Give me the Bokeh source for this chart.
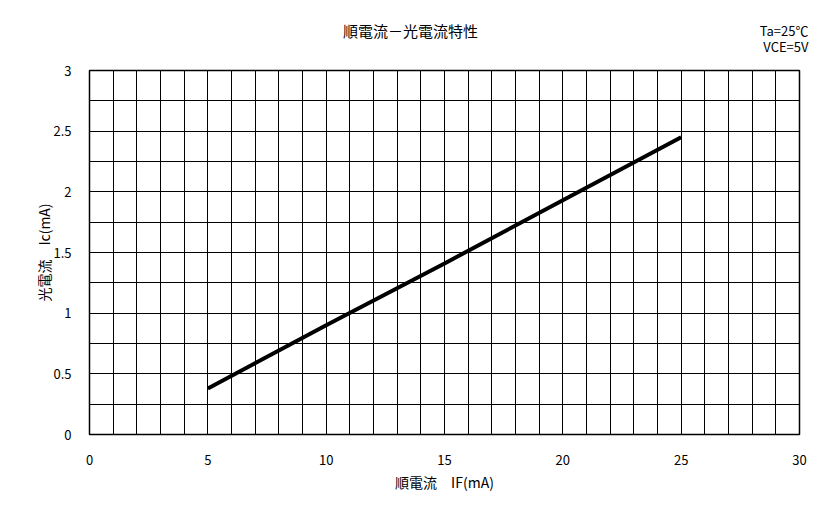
from bokeh.plotting import figure
from bokeh.models import Label, FixedTicker, SingleIntervalTicker, Range1d
from bokeh.layouts import column, row
from bokeh.embed import file_html
from bokeh.resources import INLINE

# data
if_ma = [5, 10, 15, 20, 25]
ic_ma = [0.38, 0.90, 1.41, 1.93, 2.45]
x_ticks = [0, 5, 10, 15, 20, 25, 30]
y_ticks = [0, 0.5, 1, 1.5, 2, 2.5, 3]
y_tick_labels = ["0", "0.5", "1", "1.5", "2", "2.5", "3"]
title_text = "順電流－光電流特性"
cond1 = "Ta=25℃"
cond2 = "VCE=5V"
xlabel = "順電流\u3000IF(mA)"
ylabel = "光電流\u3000Ic(mA)"

FONT = "Noto Sans CJK JP"
W = 815
HEAD_H = 60
MAIN_H = 456
LEFT, RIGHT = 89, 16

# header strip holding the title and measuring conditions (x range in page pixels)
head = figure(width=W, height=HEAD_H, output_backend="svg", toolbar_location=None,
              x_range=Range1d(0, W), y_range=Range1d(0, HEAD_H),
              min_border=0, title=None)
head.axis.visible = False
head.grid.visible = False
head.outline_line_color = None
head.background_fill_color = "white"
head.border_fill_color = "white"
head.add_layout(Label(x=410, y=30, text=title_text,
                      text_font=FONT, text_font_size="15px", text_align="center",
                      text_baseline="middle", text_color="black"))
head.add_layout(Label(x=808, y=30, text=cond1,
                      text_font=FONT, text_font_size="13px", text_align="right",
                      text_baseline="middle", text_color="black"))
head.add_layout(Label(x=808, y=14, text=cond2,
                      text_font=FONT, text_font_size="13px", text_align="right",
                      text_baseline="middle", text_color="black"))

p = figure(width=W, height=MAIN_H, output_backend="svg", toolbar_location=None,
           x_range=Range1d(0, 30), y_range=Range1d(0, 3), title=None,
           min_border_left=LEFT, min_border_right=RIGHT, min_border_top=10, min_border_bottom=82)

p.outline_line_color = "black"
p.outline_line_width = 1.5
p.background_fill_color = "white"
p.border_fill_color = "white"

p.xgrid.ticker = SingleIntervalTicker(interval=1)
p.ygrid.ticker = SingleIntervalTicker(interval=0.25)
for g in (p.xgrid, p.ygrid):
    g.grid_line_color = "black"
    g.grid_line_width = 1
    g.grid_line_alpha = 1

p.xaxis.ticker = FixedTicker(ticks=x_ticks)
p.yaxis.ticker = FixedTicker(ticks=y_ticks)
p.yaxis.major_label_overrides = {t: l for t, l in zip(y_ticks, y_tick_labels)}
p.xaxis.major_label_overrides = {t: str(t) for t in x_ticks}

for ax in (p.xaxis, p.yaxis):
    ax.axis_line_color = None
    ax.major_tick_line_color = None
    ax.minor_tick_line_color = None
    ax.major_label_text_font = FONT
    ax.major_label_text_font_size = "13px"
    ax.major_label_text_color = "black"
    ax.axis_label_text_font = FONT
    ax.axis_label_text_font_size = "14px"
    ax.axis_label_text_font_style = "normal"
    ax.axis_label_text_color = "black"

p.xaxis.major_label_standoff = 14
p.yaxis.major_label_standoff = 12
p.xaxis.axis_label = xlabel
p.yaxis.axis_label = ylabel
p.xaxis.axis_label_standoff = 4
p.yaxis.axis_label_standoff = -4

p.line(if_ma, ic_ma, line_color="black", line_width=4)

layout = column(row(head, spacing=0), p, spacing=0)
open("out.html", "w").write(file_html(layout, INLINE))
